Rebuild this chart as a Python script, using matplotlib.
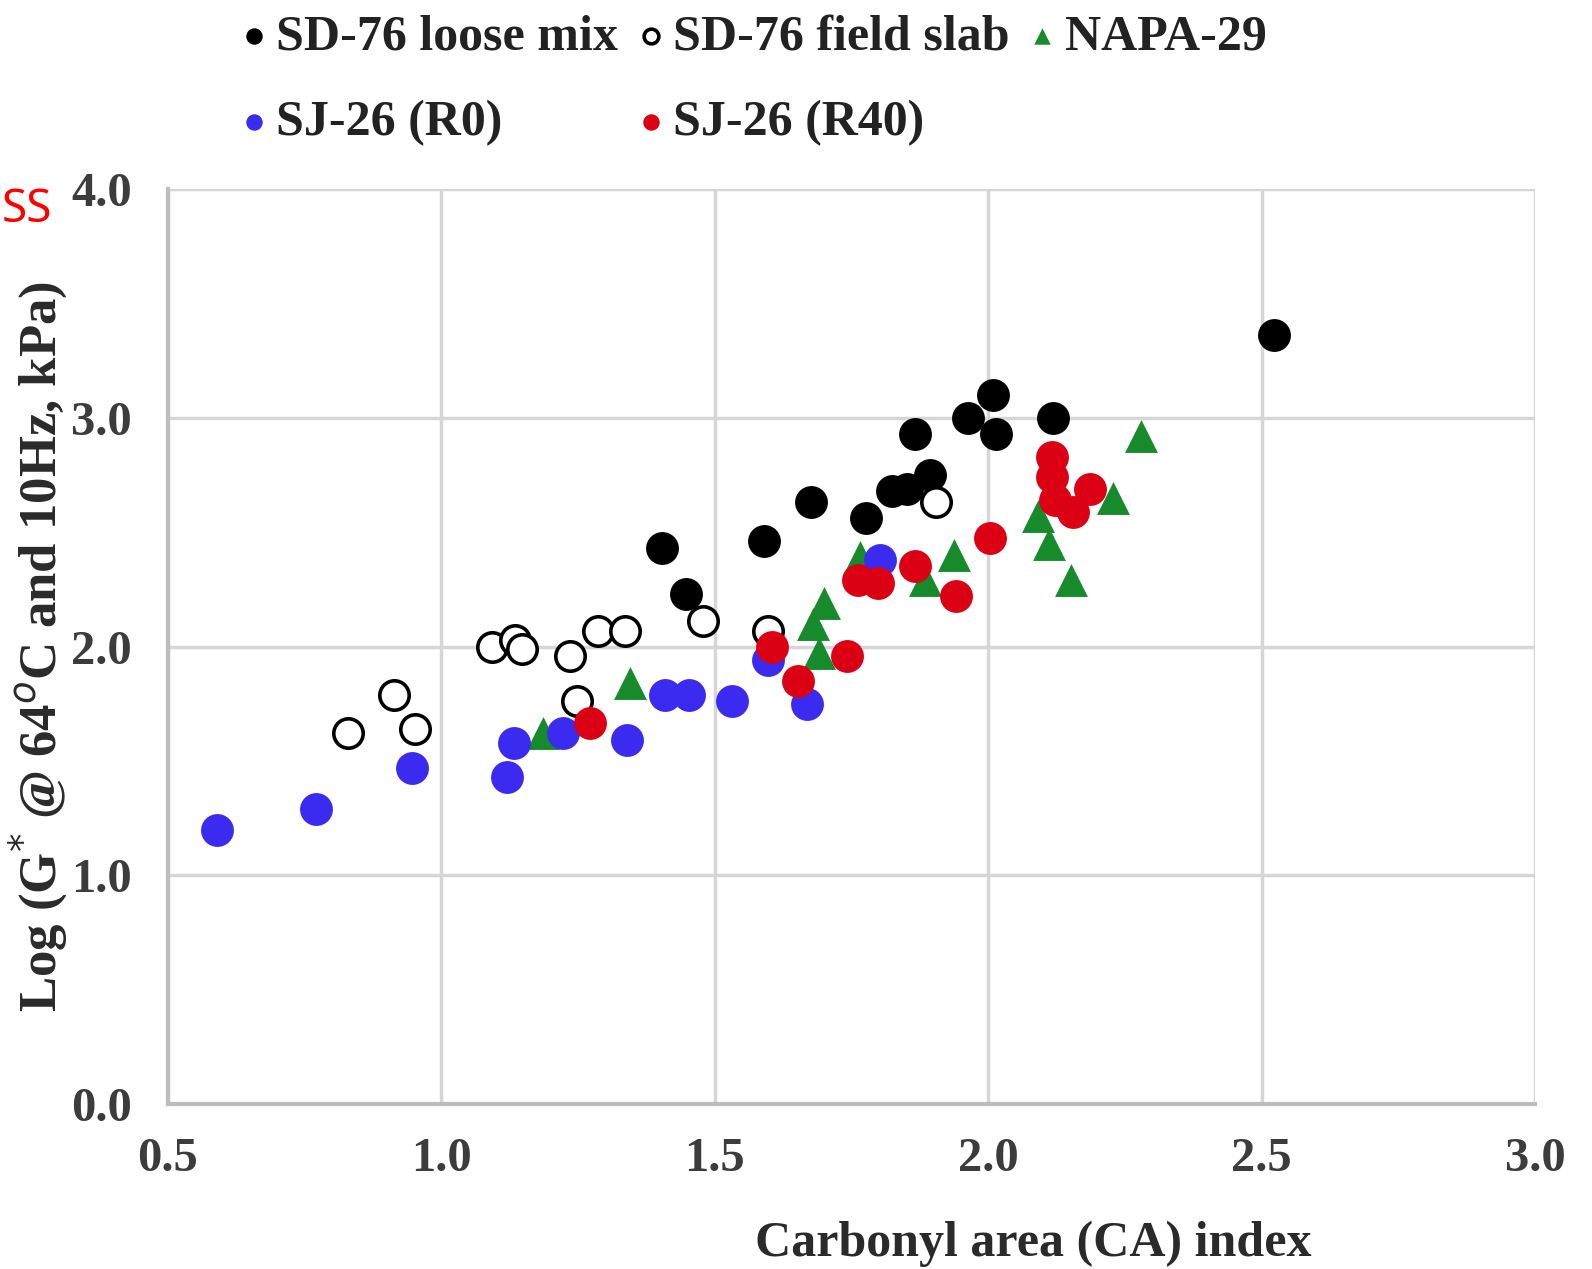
import matplotlib
matplotlib.use("Agg")
import matplotlib.pyplot as plt

plt.rcParams["font.family"] = ["Liberation Serif", "DejaVu Serif"]

# ---- data ----
loose_x = [1.403, 1.447, 1.590, 1.676, 1.776, 1.825, 1.852, 1.867, 1.893,
           1.963, 2.008, 2.015, 2.118, 2.522]
loose_y = [2.43, 2.23, 2.46, 2.63, 2.56, 2.68, 2.69, 2.93, 2.75,
           3.00, 3.10, 2.93, 3.00, 3.36]

slab_x = [0.830, 0.913, 0.952, 1.092, 1.135, 1.147, 1.235, 1.248, 1.287,
          1.336, 1.479, 1.598, 1.905]
slab_y = [1.62, 1.79, 1.64, 2.00, 2.03, 1.99, 1.96, 1.76, 2.07,
          2.07, 2.11, 2.07, 2.63]

napa_x = [1.186, 1.345, 1.680, 1.700, 1.690, 1.765, 1.884, 1.937, 2.091,
          2.112, 2.152, 2.228, 2.280]
napa_y = [1.62, 1.84, 2.10, 2.19, 1.97, 2.39, 2.29, 2.40, 2.57,
          2.45, 2.29, 2.65, 2.92]

r0_x = [0.590, 0.771, 0.946, 1.120, 1.132, 1.223, 1.339, 1.409, 1.452,
        1.531, 1.598, 1.668, 1.802]
r0_y = [1.20, 1.29, 1.47, 1.43, 1.58, 1.62, 1.59, 1.79, 1.79,
        1.76, 1.94, 1.75, 2.38]

r40_x = [1.272, 1.604, 1.653, 1.741, 1.762, 1.799, 1.866, 1.941, 2.004,
         2.116, 2.116, 2.122, 2.155, 2.186]
r40_y = [1.665, 2.00, 1.85, 1.96, 2.29, 2.28, 2.35, 2.22, 2.475,
         2.83, 2.74, 2.64, 2.59, 2.69]

xticks = [0.5, 1.0, 1.5, 2.0, 2.5, 3.0]
yticks = [0.0, 1.0, 2.0, 3.0, 4.0]

BLACK = "#000000"
BLUE = "#3b2bf0"
RED = "#dc0014"
GREEN = "#178a2c"
GRID = "#d6d6d6"
TICK = "#3c3c3c"

fig = plt.figure(figsize=(15.92, 12.69), dpi=100)
fig.patch.set_facecolor("white")
ax = fig.add_axes([0.1055, 0.130, 0.8587, 0.721])

S = 560
h_loose = ax.scatter(loose_x, loose_y, s=S, c=BLACK, lw=0, zorder=3)
h_slab = ax.scatter(slab_x, slab_y, s=S * 0.8, facecolors="white",
                    edgecolors=BLACK, lw=2.6, zorder=3)
h_napa = ax.scatter(napa_x, napa_y, s=S, marker="^", c=GREEN, lw=0,
                    zorder=4)
h_r0 = ax.scatter(r0_x, r0_y, s=S, c=BLUE, lw=0, zorder=5)
h_r40 = ax.scatter(r40_x, r40_y, s=S, c=RED, lw=0, zorder=6)

ax.set_xlim(0.5, 3.0)
ax.set_ylim(0.0, 4.0)
ax.set_xticks(xticks)
ax.set_yticks(yticks)
ax.set_xticklabels([f"{v:.1f}" for v in xticks])
ax.set_yticklabels([f"{v:.1f}" for v in yticks])
ax.tick_params(length=0, labelsize=35, labelcolor=TICK)
ax.tick_params(axis="y", pad=26)
ax.tick_params(axis="x", pad=24)
for lab in ax.get_xticklabels() + ax.get_yticklabels():
    lab.set_fontweight("bold")

ax.grid(True, color=GRID, lw=2.5)
ax.set_axisbelow(True)
for side in ("top", "right"):
    ax.spines[side].set_visible(False)
for side in ("left", "bottom"):
    ax.spines[side].set_color("#bdbdbd")
    ax.spines[side].set_linewidth(3)

ax.set_xlabel("Carbonyl area (CA) index", fontsize=36, fontweight="bold",
              color="#2a2a2a")
ax.xaxis.set_label_coords(0.633, -0.127)
ax.set_ylabel(r"Log (G$^{*}$ @ 64$^{o}$C and 10Hz, kPa)", fontsize=38,
              fontweight="bold", color="#2a2a2a")
ax.yaxis.set_label_coords(-0.072, 0.5)

leg = ax.legend([h_loose, h_r0, h_slab, h_r40, h_napa],
                ["SD-76 loose mix", "SJ-26 (R0)", "SD-76 field slab",
                 "SJ-26 (R40)", "NAPA-29"],
                ncol=3, loc="upper left", bbox_to_anchor=(244 / 1592, 1 - 14 / 1269),
                bbox_transform=fig.transFigure, frameon=False,
                prop={"size": 36, "weight": "bold"}, markerscale=0.5,
                handlelength=0.4, handletextpad=0.25, columnspacing=0.45,
                labelspacing=0.8, borderpad=0, borderaxespad=0)
for t in leg.get_texts():
    t.set_color("#222222")

# stray red text at the left edge of the source image
fig.text(2 / 1592, 1 - 222 / 1269, "SS", fontsize=33, color="red",
         family=["Noto Sans", "DejaVu Sans"], ha="left", va="baseline")

fig.savefig("out.png", dpi=100)
